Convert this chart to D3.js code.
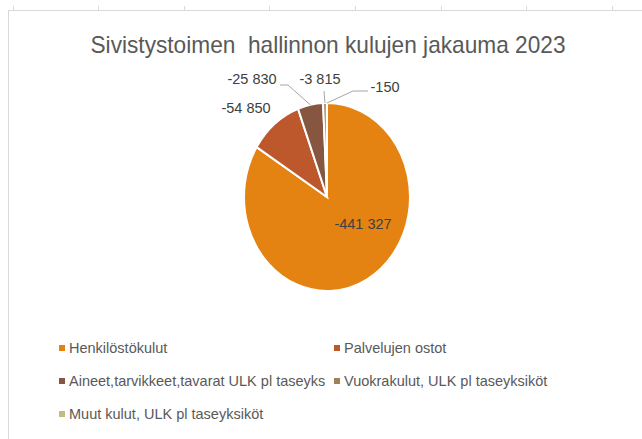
<!DOCTYPE html>
<html>
<head>
<meta charset="utf-8">
<script src="https://cdn.jsdelivr.net/npm/d3@7"></script>
<style>
  body { margin: 0; background: #fff; }
  text { font-family: "Liberation Sans", Arial, sans-serif; }
</style>
</head>
<body>
<div id="chart"></div>
<script>
// chart data
const categories = [
    'Henkilöstökulut',
    'Palvelujen ostot',
    'Aineet,tarvikkeet,tavarat ULK pl taseyks',
    'Vuokrakulut, ULK pl taseyksiköt',
    'Muut kulut, ULK pl taseyksiköt'
];
const values = [-441327, -54850, -25830, -3815, -150];
const valueLabels = ['-441 327', '-54 850', '-25 830', '-3 815', '-150'];
const colors = ['#E48312', '#BD582C', '#865640', '#9B8357', '#C2BC80'];
const title = 'Sivistystoimen  hallinnon kulujen jakauma 2023';

const width = 642;
const height = 439;

// pie is drawn a bit narrower than tall, like the source image
const cx = 327, cy = 197, r = 94, squeeze = 0.883;

// where Excel put each data label (centre of text), and leader line start
const labelLayout = [
    { x: 363, y: 224, line: null },
    { x: 246, y: 108, line: null },
    { x: 252, y: 79, line: [[280, 85], [288, 85]] },
    { x: 320, y: 79, line: [[324, 91]] },
    { x: 385, y: 87, line: [[368, 91], [353, 91]] }
];

const svg = d3.select('#chart').append('svg')
    .attr('width', width)
    .attr('height', height);

// document frame + ruler ticks along the top
const frame = svg.append('g').attr('stroke', '#d9d9d9').attr('stroke-width', 1);
frame.append('line').attr('x1', 8).attr('x2', width).attr('y1', 10.5).attr('y2', 10.5);
frame.append('line').attr('x1', 8.5).attr('x2', 8.5).attr('y1', 10).attr('y2', height);
d3.range(12.5, width, 85.6).forEach(x => {
    frame.append('line').attr('x1', Math.round(x) + 0.5).attr('x2', Math.round(x) + 0.5)
        .attr('y1', 6).attr('y2', 10);
});

svg.append('text')
    .attr('x', 328)
    .attr('y', 53)
    .attr('text-anchor', 'middle')
    .attr('fill', '#595959')
    .attr('textLength', 475)
    .attr('lengthAdjust', 'spacingAndGlyphs')
    .style('font-size', '24px')
    .style('white-space', 'pre')
    .text(title);

const pie = d3.pie()
    .sort(null)
    .value(d => Math.abs(d));
const arcs = pie(values);

const arc = d3.arc().innerRadius(0).outerRadius(r);

const gPie = svg.append('g')
    .attr('transform', `translate(${cx},${cy}) scale(${squeeze},1)`);

gPie.selectAll('path')
    .data(arcs)
    .join('path')
    .attr('d', arc)
    .attr('fill', (d, i) => colors[i])
    .attr('stroke', '#fff')
    .attr('stroke-width', 2)
    .attr('vector-effect', 'non-scaling-stroke');

// point on the slice edge at its mid angle, in page coords
function edgePoint(d) {
    const a = (d.startAngle + d.endAngle) / 2;
    return [cx + r * squeeze * Math.sin(a), cy - r * Math.cos(a)];
}

const lineGen = d3.line();
arcs.forEach((d, i) => {
    const lay = labelLayout[i];
    if (!lay.line) return;
    svg.append('path')
        .attr('d', lineGen([...lay.line, edgePoint(d)]))
        .attr('fill', 'none')
        .attr('stroke', '#a6a6a6')
        .attr('stroke-width', 1);
});

svg.append('g').selectAll('text')
    .data(arcs)
    .join('text')
    .attr('x', (d, i) => labelLayout[i].x)
    .attr('y', (d, i) => labelLayout[i].y)
    .attr('dy', '0.35em')
    .attr('text-anchor', 'middle')
    .attr('fill', '#404040')
    .style('font-size', '14.5px')
    .text((d, i) => valueLabels[i]);

// legend, two columns
const legendX = [62, 337];
const legendY = [348, 381, 414];
const legend = svg.append('g').selectAll('g')
    .data(categories)
    .join('g')
    .attr('transform', (d, i) => `translate(${legendX[i % 2]},${legendY[Math.floor(i / 2)]})`);

legend.append('rect')
    .attr('x', -3)
    .attr('y', -3)
    .attr('width', 6)
    .attr('height', 6)
    .attr('fill', (d, i) => colors[i]);

legend.append('text')
    .attr('x', 7)
    .attr('dy', '0.35em')
    .attr('fill', '#595959')
    .style('font-size', '14.5px')
    .text(d => d);
</script>
</body>
</html>
